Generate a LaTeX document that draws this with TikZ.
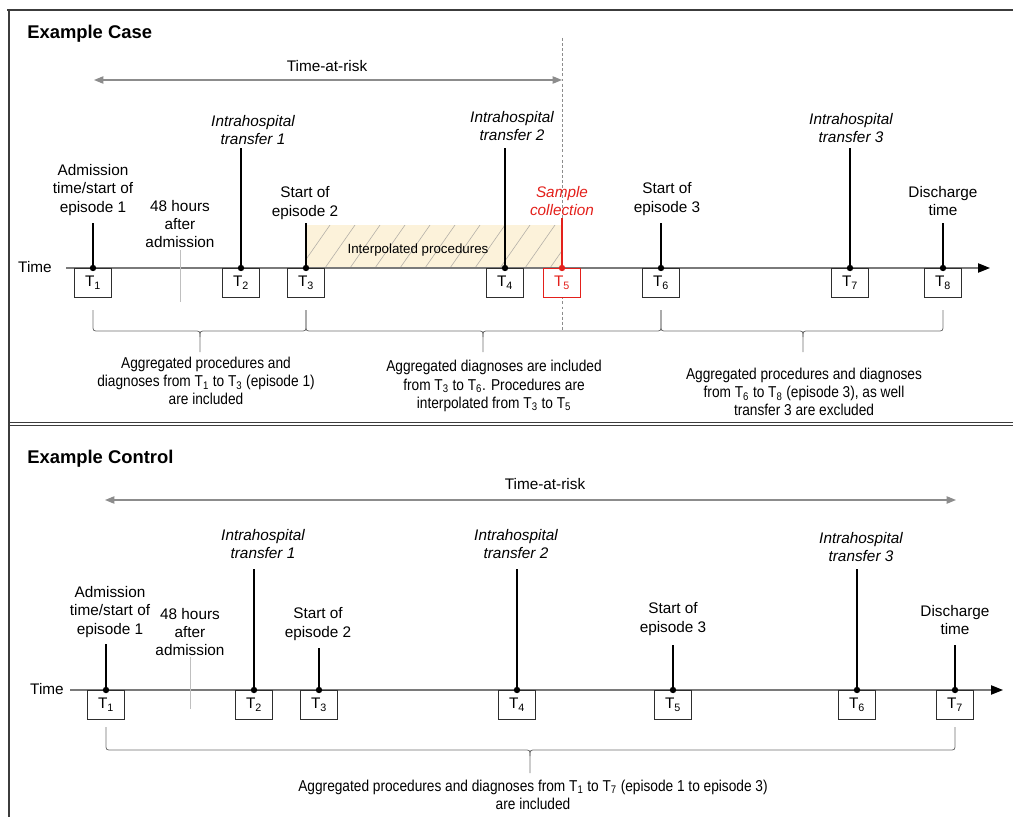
\documentclass[tikz,border=0pt]{standalone}
\usepackage{fontspec}
\setmainfont{Liberation Sans}
\newfontfamily\narrowfont[FakeStretch=0.87]{Liberation Sans}
\usetikzlibrary{arrows.meta}
\definecolor{framec}{HTML}{3C3C3C}
\definecolor{boxc}{HTML}{2E2E2E}
\definecolor{axisc}{HTML}{7A7A7A}
\definecolor{riskc}{HTML}{8C8C8C}
\definecolor{redc}{HTML}{E3201B}
\definecolor{beige}{HTML}{FCF2DA}
\definecolor{hatchc}{HTML}{B4B0A8}
\definecolor{bracec}{HTML}{6E6E6E}
\newcommand\cbrace[6]{%
  \draw[bracecurve] (#1,#4) -- (#1,#5-6) .. controls (#1,#5) .. (#1+6,#5) -- (#3-6,#5) .. controls (#3,#5) .. (#3,#5+6) -- (#3,#6);
  \draw[bracecurve] (#3,#5+6) .. controls (#3,#5) .. (#3+6,#5) -- (#2-6,#5) .. controls (#2,#5) .. (#2,#5-6) -- (#2,#4);}
\begin{document}
\begin{tikzpicture}[x=0.75pt,y=-0.75pt,
  lbl/.style={align=center,inner sep=0pt,font=\fontsize{11.5}{13.8}\selectfont},
  ilbl/.style={align=center,inner sep=0pt,font=\fontsize{11.5}{13.8}\selectfont\itshape},
  blbl/.style={align=center,inner sep=0pt,font=\narrowfont\fontsize{11.8}{13.6}\selectfont},
  title/.style={anchor=west,inner sep=0pt,font=\fontsize{13.8}{16}\selectfont\bfseries},
  tbox/.style={draw=boxc,fill=white,line width=0.8pt,minimum width=27.5pt,minimum height=21.5pt,inner sep=0pt,anchor=north,font=\fontsize{11.5}{13.8}\selectfont},
  tickl/.style={line width=2pt},
  axisl/.style={draw=axisc,line width=0.9pt,-{Triangle[length=9pt,width=7pt,color=black]}},
  riskl/.style={draw=riskc,line width=0.9pt,{Triangle[length=7pt,width=5.5pt]}-{Triangle[length=7pt,width=5.5pt]}},
  hourl/.style={draw=black!25,line width=0.6pt},
  bracecurve/.style={draw=bracec,line width=0.6pt},
  framel/.style={draw=framec,line width=1.5pt},
]
\useasboundingbox (0,0) rectangle (1013,817);
% frame
\draw[framel] (7,10) -- (1013,10);
\draw[framel] (8.5,9) -- (8.5,817);
\draw[framec,line width=0.9pt] (8,422.5) -- (1013,422.5);
\draw[framec,line width=0.9pt] (8,425.8) -- (1013,425.8);

%================ TOP PANEL =================
\node[title] (tcase) at (27,34) {Example Case};
% time at risk
\node[lbl] (risk1) at (327,66) {Time-at-risk};
\coordinate (r1L) at (94,80);
\coordinate (r1R) at (562,80);
\draw[riskl] (r1L) -- (r1R);
% dashed sample line
\coordinate (d1) at (562,38);
\coordinate (d2) at (562,330);
\draw[riskc,line width=0.6pt,dash pattern=on 2.2pt off 1.6pt] (d1) -- (d2);
% hatched region
\fill[beige] (306,225) rectangle (562,268);
\begin{scope}
\clip (306,225) rectangle (562,268);
\foreach \x in {300,325,...,600} \draw[hatchc,line width=0.45pt] (\x,268) -- (\x+30,225);
\end{scope}
\node[inner sep=0pt,font=\fontsize{10}{12}\selectfont] (interp) at (418,250) {Interpolated procedures};
% axis
\node[lbl] (time1) at (35,267) {Time};
\coordinate (a1s) at (66,268);
\coordinate (a1e) at (990,268);
\draw[axisl] (a1s) -- (a1e);
% 48 hours
\node[lbl] (h48a) at (180,224) {48 hours\\after\\admission};
\coordinate (h1a) at (180,250);
\coordinate (h1b) at (180,302);
\draw[hourl] (h1a) -- (h1b);
% boxes
\node[tbox] (A1) at (93,268) {T\textsubscript{1}};
\node[tbox] (A2) at (241,268) {T\textsubscript{2}};
\node[tbox] (A3) at (306,268) {T\textsubscript{3}};
\node[tbox] (A4) at (505,268) {T\textsubscript{4}};
\node[tbox,draw=redc,text=redc] (A5) at (562,268) {T\textsubscript{5}};
\node[tbox] (A6) at (661,268) {T\textsubscript{6}};
\node[tbox] (A7) at (850,268) {T\textsubscript{7}};
\node[tbox] (A8) at (943,268) {T\textsubscript{8}};
% labels
\node[lbl] (la1) at (93,190) {Admission\\time/start of\\episode 1};
\node[ilbl] (la2) at (253,130) {Intrahospital\\transfer 1};
\node[lbl] (la3) at (305,203) {Start of\\episode 2};
\node[ilbl] (la4) at (512,126) {Intrahospital\\transfer 2};
\node[ilbl,text=redc] (la5) at (562,201) {Sample\\collection};
\node[lbl] (la6) at (667,199) {Start of\\episode 3};
\node[ilbl] (la7) at (851,128) {Intrahospital\\transfer 3};
\node[lbl] (la8) at (943,201) {Discharge\\time};
% ticks
\foreach \n/\x/\y in {1/93/223,2/241/148,3/306/223,4/505/148,6/661/223,7/850/148,8/943/223}{
  \coordinate (ta\n) at (\x,\y);
  \draw[tickl] (ta\n) -- (A\n.north);
  \fill (A\n.north) circle (3.2);
}
\coordinate (ta5) at (562,218);
\draw[tickl,redc] (ta5) -- (A5.north);
\fill[redc] (A5.north) circle (3.2);
% braces
\cbrace{93}{306}{200}{310}{331}{352}
\cbrace{306}{661}{483}{310}{331}{352}
\cbrace{661}{943}{803}{310}{331}{352}
\node[blbl] (b1) at (206,381) {Aggregated procedures and\\diagnoses from T\textsubscript{1} to T\textsubscript{3} (episode 1)\\are included};
\node[blbl] (b2) at (494,386) {Aggregated diagnoses are included\\from T\textsubscript{3} to T\textsubscript{6}. Procedures are\\interpolated from T\textsubscript{3} to T\textsubscript{5}};
\node[blbl] (b3) at (804,392) {Aggregated procedures and diagnoses\\from T\textsubscript{6} to T\textsubscript{8} (episode 3), as well\\transfer 3 are excluded};

%================ BOTTOM PANEL =================
\node[title] (tctrl) at (27,459) {Example Control};
\node[lbl] (risk2) at (545,484) {Time-at-risk};
\coordinate (r2L) at (105,500);
\coordinate (r2R) at (956,500);
\draw[riskl] (r2L) -- (r2R);
\node[lbl] (time2) at (47,689) {Time};
\coordinate (a2s) at (70,690);
\coordinate (a2e) at (1003,690);
\draw[axisl] (a2s) -- (a2e);
\node[lbl] (h48b) at (190,632) {48 hours\\after\\admission};
\coordinate (h2a) at (190,657);
\coordinate (h2b) at (190,709);
\draw[hourl] (h2a) -- (h2b);
\node[tbox] (B1) at (106,690) {T\textsubscript{1}};
\node[tbox] (B2) at (254,690) {T\textsubscript{2}};
\node[tbox] (B3) at (319,690) {T\textsubscript{3}};
\node[tbox] (B4) at (517,690) {T\textsubscript{4}};
\node[tbox] (B5) at (673,690) {T\textsubscript{5}};
\node[tbox] (B6) at (857,690) {T\textsubscript{6}};
\node[tbox] (B7) at (955,690) {T\textsubscript{7}};
\node[lbl] (lb1) at (110,612) {Admission\\time/start of\\episode 1};
\node[ilbl] (lb2) at (263,544) {Intrahospital\\transfer 1};
\node[lbl] (lb3) at (318,624) {Start of\\episode 2};
\node[ilbl] (lb4) at (516,544) {Intrahospital\\transfer 2};
\node[lbl] (lb5) at (673,619) {Start of\\episode 3};
\node[ilbl] (lb6) at (861,547) {Intrahospital\\transfer 3};
\node[lbl] (lb7) at (955,620) {Discharge\\time};
\foreach \n/\x/\y in {1/106/644,2/254/569,3/319/648,4/517/569,5/673/645,6/857/569,7/955/645}{
  \coordinate (tb\n) at (\x,\y);
  \draw[tickl] (tb\n) -- (B\n.north);
  \fill (B\n.north) circle (3.2);
}
\cbrace{106}{955}{530}{727}{750}{773}
\node[blbl] (b4) at (533,795) {Aggregated procedures and diagnoses from T\textsubscript{1} to T\textsubscript{7} (episode 1 to episode 3)\\are included};
\end{tikzpicture}
\end{document}
